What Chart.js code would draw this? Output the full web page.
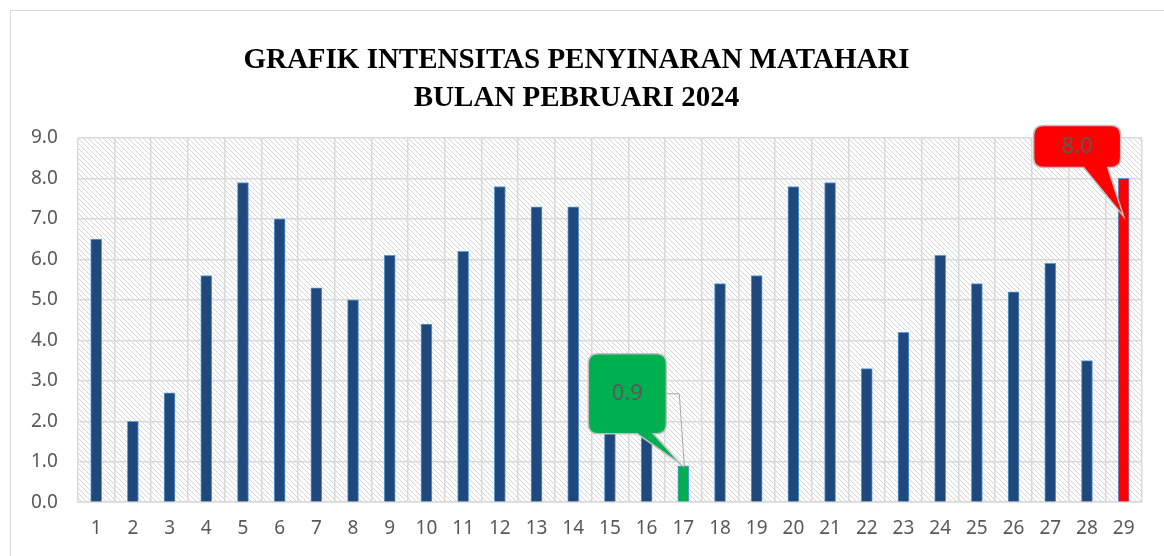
<!DOCTYPE html>
<html>
<head>
<meta charset="utf-8">
<script src="https://cdn.jsdelivr.net/npm/chart.js@4/dist/chart.umd.min.js"></script>
<style>
  html, body { margin: 0; padding: 0; background: #fff; }
  #wrap { position: absolute; left: 10px; top: 10px; width: 1160px; height: 552px;
          border: 1px solid #d9d9d9; background: #fff; }
  canvas { display: block; }
</style>
</head>
<body>
<div id="wrap"><canvas id="chart" width="1160" height="552"></canvas></div>
<script>
// tanggal bulan Pebruari 2024
const days = ["1","2","3","4","5","6","7","8","9","10","11","12","13","14","15",
              "16","17","18","19","20","21","22","23","24","25","26","27","28","29"];
// intensitas penyinaran (jam)
const intensity = [6.5, 2.0, 2.7, 5.6, 7.9, 7.0, 5.3, 5.0, 6.1, 4.4, 6.2, 7.8, 7.3, 7.3, 2.6,
                   2.2, 0.9, 5.4, 5.6, 7.8, 7.9, 3.3, 4.2, 6.1, 5.4, 5.2, 5.9, 3.5, 8.0];
const minDay = 17;
const maxDay = 29;

const barFill = days.map((d) => (+d === minDay ? "#00b050" : +d === maxDay ? "#ff0000" : "#1f497d"));

// diagonal hatch behind the plot
function makeHatch(ctx) {
  const c = document.createElement("canvas");
  c.width = 5; c.height = 5;
  const g = c.getContext("2d");
  g.fillStyle = "#fff";
  g.fillRect(0, 0, 5, 5);
  g.strokeStyle = "#d6d6d6";
  g.lineWidth = 1;
  g.beginPath();
  g.moveTo(-1, -1); g.lineTo(6, 6);
  g.moveTo(-1, 4); g.lineTo(1, 6);
  g.moveTo(4, -1); g.lineTo(6, 1);
  g.stroke();
  return ctx.createPattern(c, "repeat");
}

const hatchBg = {
  id: "hatchBg",
  beforeDraw(chart) {
    const { ctx, chartArea: a } = chart;
    ctx.save();
    ctx.fillStyle = makeHatch(ctx);
    ctx.fillRect(a.left, a.top, a.right - a.left, a.bottom - a.top);
    ctx.restore();
  },
};

// callout labels for the min and max day
const callouts = {
  id: "callouts",
  afterDatasetsDraw(chart) {
    const { ctx } = chart;
    const bars = chart.getDatasetMeta(0).data;
    const draw = (i, fill, box, tail, tip, leader) => {
      const b = bars[i];
      const ax = b.x, ay = b.y;
      const L = ax + box[0], T = ay + box[1], R = ax + box[2], B = ay + box[3];
      const r = 10;
      ctx.save();
      if (leader) {
        ctx.strokeStyle = "#a6a6a6";
        ctx.lineWidth = 1;
        ctx.beginPath();
        ctx.moveTo(R, ay + leader[1]);
        ctx.lineTo(ax + leader[0], ay + leader[1]);
        ctx.lineTo(ax + 1, ay);
        ctx.stroke();
      }
      ctx.beginPath();
      ctx.moveTo(L + r, T);
      ctx.lineTo(R - r, T);
      ctx.quadraticCurveTo(R, T, R, T + r);
      ctx.lineTo(R, B - r);
      ctx.quadraticCurveTo(R, B, R - r, B);
      ctx.lineTo(ax + tail[1], B);
      ctx.lineTo(ax + tip[0], ay + tip[1]);
      ctx.lineTo(ax + tail[0], B);
      ctx.lineTo(L + r, B);
      ctx.quadraticCurveTo(L, B, L, B - r);
      ctx.lineTo(L, T + r);
      ctx.quadraticCurveTo(L, T, L + r, T);
      ctx.closePath();
      ctx.fillStyle = fill;
      ctx.fill();
      ctx.strokeStyle = "#bfbfbf";
      ctx.lineWidth = 1.5;
      ctx.stroke();
      ctx.fillStyle = "#595959";
      ctx.font = "22px 'Noto Sans', sans-serif";
      ctx.textAlign = "center";
      ctx.textBaseline = "middle";
      ctx.fillText(intensity[i].toFixed(1), (L + R) / 2, (T + B) / 2);
      ctx.restore();
    };
    draw(minDay - 1, "#00b050", [-95, -112, -17, -32], [-46, -30], [-3, -2], [-4, -72]);
    draw(maxDay - 1, "#ff0000", [-90, -53, -3, -11], [-40, -16], [0, 38], null);
  },
};

new Chart(document.getElementById("chart").getContext("2d"), {
  type: "bar",
  data: {
    labels: days,
    datasets: [
      {
        data: intensity,
        backgroundColor: barFill,
        borderColor: "#5b9bd5",
        borderWidth: 1,
        barThickness: 11,
      },
    ],
  },
  options: {
    responsive: false,
    animation: false,
    layout: { padding: { left: 0, right: 29, top: 31, bottom: 8 } },
    plugins: {
      legend: { display: false },
      tooltip: { enabled: false },
      title: {
        display: true,
        text: ["GRAFIK INTENSITAS PENYINARAN MATAHARI", "BULAN PEBRUARI 2024"],
        color: "#000",
        font: { family: "'Liberation Serif', serif", size: 29, weight: "bold", lineHeight: 1.31 },
        padding: { top: 0, bottom: 20 },
      },
    },
    scales: {
      x: {
        grid: { color: "#d9d9d9", lineWidth: 1.5, drawTicks: false },
        border: { color: "#d9d9d9", width: 1.5 },
        ticks: { color: "#595959", font: { family: "'Noto Sans', sans-serif", size: 19 }, padding: 15 },
      },
      y: {
        min: 0,
        max: 9,
        grid: { color: "#d9d9d9", lineWidth: 1.5, drawTicks: false },
        border: { display: false },
        ticks: {
          stepSize: 1,
          color: "#595959",
          font: { family: "'Noto Sans', sans-serif", size: 19 },
          padding: 20,
          callback: (v) => v.toFixed(1),
        },
      },
    },
  },
  plugins: [hatchBg, callouts],
});
</script>
</body>
</html>
